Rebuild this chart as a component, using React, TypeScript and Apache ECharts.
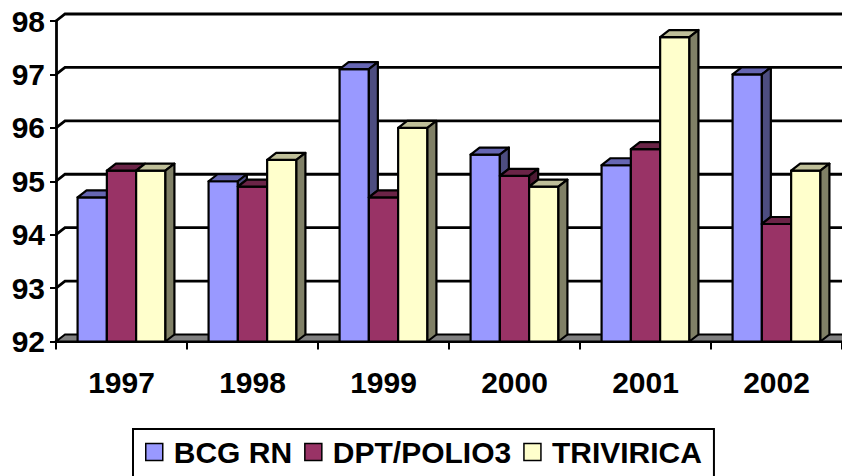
import React, { useEffect, useRef } from "react";
import * as echarts from "echarts";

const categories = ["1997", "1998", "1999", "2000", "2001", "2002"];
const seriesNames = ["BCG RN", "DPT/POLIO3", "TRIVIRICA"];
const bcgRN = [94.7, 95.0, 97.1, 95.5, 95.3, 97.0];
const dptPolio3 = [95.2, 94.9, 94.7, 95.1, 95.6, 94.2];
const trivirica = [95.2, 95.4, 96.0, 94.9, 97.7, 95.2];
const yTicks = [92, 93, 94, 95, 96, 97, 98];

const allSeries = [bcgRN, dptPolio3, trivirica];
const frontColors = ["#9999FF", "#993366", "#FFFFCC"];
const topColors = ["#6666B3", "#6B2447", "#BFBF99"];
const sideColors = ["#4D4D80", "#4D1A33", "#808066"];

const DX = 9;
const DY = 7;
const BASE = 92;
const FONT = "'Liberation Sans', Arial, sans-serif";

export default function App() {
  const ref = useRef<HTMLDivElement>(null);
  useEffect(() => {
    if (!ref.current) return;
    const chart = echarts.init(ref.current, null, { renderer: "svg" });

    const background = {
      type: "custom",
      name: "__bg",
      silent: true,
      z: 1,
      data: [[0, BASE]],
      encode: { x: 0, y: 1 },
      renderItem: (params: any, api: any) => {
        const cw = api.size([1, 0])[0];
        const xL = api.coord([0, BASE])[0] - cw / 2;
        const xR = api.coord([categories.length - 1, BASE])[0] + cw / 2;
        const y0 = api.coord([0, BASE])[1];
        const children: any[] = [];
        children.push({
          type: "polygon",
          shape: {
            points: [
              [xL, y0],
              [xR + 30, y0],
              [xR + 30 + DX, y0 - DY],
              [xL + DX, y0 - DY],
            ],
          },
          style: { fill: "#808080", stroke: "#000", lineWidth: 2 },
        });
        yTicks.forEach((t) => {
          if (t === BASE) return;
          const y = api.coord([0, t])[1];
          children.push({
            type: "polyline",
            shape: {
              points: [
                [xL, y],
                [xL + DX, y - DY],
                [xR + DX + 30, y - DY],
              ],
            },
            style: { stroke: "#000", lineWidth: 2.8, fill: null },
          });
        });
        return { type: "group", children };
      },
    };

    const bars = allSeries.map((vals, si) => ({
      type: "custom",
      name: seriesNames[si],
      z: 2,
      itemStyle: { color: frontColors[si], borderColor: "#000", borderWidth: 1.5 },
      data: vals.map((v, ci) => [ci, v]),
      encode: { x: 0, y: 1 },
      renderItem: (params: any, api: any) => {
        const ci = api.value(0);
        const v = api.value(1);
        const base = api.coord([ci, BASE]);
        const top = api.coord([ci, v]);
        const cw = api.size([1, 0])[0];
        const bw = cw * 0.2235;
        const x0 = base[0] - 1.5 * bw + si * bw;
        const x1 = x0 + bw;
        const yt = top[1];
        const y0 = base[1];
        const stroke = { stroke: "#000", lineWidth: 2.2, lineJoin: "round" };
        const children: any[] = [
          {
            type: "polygon",
            shape: { points: [[x0, yt], [x1, yt], [x1, y0], [x0, y0]] },
            style: { fill: frontColors[si], ...stroke },
          },
          {
            type: "polygon",
            shape: {
              points: [
                [x0, yt],
                [x1, yt],
                [x1 + DX, yt - DY],
                [x0 + DX, yt - DY],
              ],
            },
            style: { fill: topColors[si], ...stroke },
          },
        ];
        const nextV = si < allSeries.length - 1 ? allSeries[si + 1][ci] : BASE;
        if (nextV < v) {
          const yn = api.coord([ci, nextV])[1];
          children.push({
            type: "polygon",
            shape: {
              points: [
                [x1, yt],
                [x1 + DX, yt - DY],
                [x1 + DX, yn - DY],
                [x1, yn],
              ],
            },
            style: { fill: sideColors[si], ...stroke },
          });
        }
        return { type: "group", children };
      },
    }));

    chart.setOption({
      animation: false,
      backgroundColor: "#fff",
      textStyle: { fontFamily: FONT },
      grid: { left: 56, right: 0, top: 21, bottom: 134.5 },
      legend: {
        data: seriesNames.map((n, i) => ({
          name: n,
          icon: "rect",
          itemStyle: { color: frontColors[i], borderColor: "#000", borderWidth: 1.5 },
        })),
        left: 133,
        top: 429,
        orient: "horizontal",
        itemWidth: 17,
        itemHeight: 17,
        itemGap: 12,
        padding: [8, 12, 30, 12],
        borderColor: "#000",
        borderWidth: 2,
        selectedMode: false,
        textStyle: {
          fontFamily: FONT,
          fontSize: 30,
          fontWeight: "bold",
          color: "#000",
          lineHeight: 30,
          padding: [0, 0, 0, 6],
        },
      },
      xAxis: {
        type: "category",
        data: categories,
        boundaryGap: true,
        axisLine: { show: true, lineStyle: { color: "#000", width: 2.8 } },
        axisTick: { show: true, length: 8, lineStyle: { color: "#000", width: 2 } },
        axisLabel: {
          fontFamily: FONT,
          fontSize: 30,
          fontWeight: "bold",
          color: "#000",
          margin: 26,
          lineHeight: 30,
        },
        splitLine: { show: false },
      },
      yAxis: {
        type: "value",
        min: 92,
        max: 98,
        interval: 1,
        axisLine: { show: true, lineStyle: { color: "#000", width: 2.8 } },
        axisTick: { show: true, length: 6, lineStyle: { color: "#000", width: 2 } },
        axisLabel: {
          fontFamily: FONT,
          fontSize: 30,
          fontWeight: "bold",
          color: "#000",
          margin: 11,
        },
        splitLine: { show: false },
      },
      series: [background, ...bars],
    });
    return () => chart.dispose();
  }, []);
  return (
    <div
      ref={ref}
      style={{ position: "fixed", left: 0, top: 0, width: 842, height: 476 }}
    />
  );
}
